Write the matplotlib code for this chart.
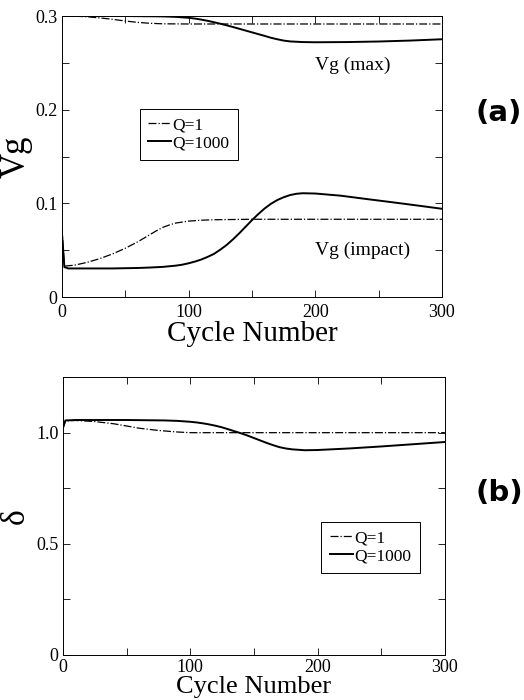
import matplotlib
matplotlib.use("Agg")
import matplotlib.pyplot as plt

plt.rcParams['font.family'] = ['Liberation Serif', 'DejaVu Serif']

# ---- panel (a): Vg vs cycle number ----
x_max_q1 = [0, 10, 20, 30, 40, 50, 60, 70, 80, 100, 300]
vg_max_q1 = [0.300, 0.2998, 0.2992, 0.298, 0.2965, 0.2947, 0.2932, 0.2922, 0.2917, 0.2915, 0.2915]

x_max_q1000 = [0, 50, 80, 90, 100, 105, 110, 115, 120, 125, 130, 135, 140, 145, 150,
               155, 160, 165, 170, 175, 180, 190, 200, 225, 250, 275, 300]
vg_max_q1000 = [0.300, 0.300, 0.2996, 0.2991, 0.2981, 0.2973, 0.2962, 0.2949, 0.2934,
                0.2918, 0.2901, 0.2883, 0.2864, 0.2845, 0.2826, 0.2807, 0.2788, 0.2768,
                0.2752, 0.2738, 0.2729, 0.2722, 0.2720, 0.2722, 0.2728, 0.2738, 0.2752]

x_imp_q1 = [0, 2, 10, 20, 30, 40, 50, 60, 65, 70, 75, 80, 85, 90, 100, 110, 120, 150, 200, 300]
vg_imp_q1 = [0.075, 0.033, 0.034, 0.037, 0.041, 0.046, 0.052, 0.059, 0.063, 0.067, 0.071,
             0.0745, 0.077, 0.079, 0.081, 0.082, 0.0825, 0.083, 0.083, 0.083]

x_imp_q1000 = [0, 2, 5, 20, 40, 60, 70, 80, 90, 95, 100, 105, 110, 115, 120, 125, 130,
               135, 140, 145, 150, 155, 160, 165, 170, 175, 180, 185, 190, 200, 220,
               240, 260, 280, 300]
vg_imp_q1000 = [0.07, 0.032, 0.0305, 0.0305, 0.0305, 0.031, 0.0315, 0.0322, 0.0335,
                0.0345, 0.036, 0.0378, 0.040, 0.0428, 0.046, 0.0505, 0.0555, 0.0615,
                0.0680, 0.0750, 0.0820, 0.0885, 0.0945, 0.0995, 0.1035, 0.1065, 0.1088,
                0.1102, 0.1108, 0.1105, 0.1082, 0.1047, 0.1013, 0.0978, 0.0942]

# ---- panel (b): delta vs cycle number ----
x_d_q1 = [0, 2, 10, 25, 40, 50, 60, 75, 90, 100, 120, 300]
delta_q1 = [1.02, 1.053, 1.055, 1.05, 1.04, 1.03, 1.02, 1.01, 1.003, 1.0, 1.0, 1.0]

x_d_q1000 = [0, 2, 10, 50, 80, 90, 100, 105, 110, 115, 120, 125, 130, 135, 140, 145,
             150, 155, 160, 165, 170, 175, 180, 190, 200, 225, 250, 275, 300]
delta_q1000 = [1.02, 1.055, 1.057, 1.057, 1.055, 1.053, 1.049, 1.046, 1.042, 1.037,
               1.031, 1.024, 1.015, 1.006, 0.997, 0.987, 0.976, 0.965, 0.954, 0.944,
               0.935, 0.929, 0.925, 0.921, 0.922, 0.929, 0.938, 0.948, 0.958]

xticks = [0, 50, 100, 150, 200, 250, 300]
xticklabels = ['0', '', '100', '', '200', '', '300']
yticks_a = [0, 0.05, 0.1, 0.15, 0.2, 0.25, 0.3]
yticklabels_a = ['0', '', '0.1', '', '0.2', '', '0.3']
yticks_b = [0, 0.25, 0.5, 0.75, 1.0, 1.25]
yticklabels_b = ['0', '', '0.5', '', '1.0', '']

fig = plt.figure(figsize=(5.24, 7.0), dpi=100)
ax1 = fig.add_axes([0.118, 0.5757, 0.7255, 0.4014])
ax2 = fig.add_axes([0.120, 0.0643, 0.729, 0.397])


def style(ax, yt, ytl, ylim, xl_size=21, xl_pad=0, xt_pad=5):
    ax.set_xlim(0, 300)
    ax.set_ylim(*ylim)
    ax.set_xticks(xticks)
    ax.set_xticklabels(xticklabels)
    ax.set_yticks(yt)
    ax.set_yticklabels(ytl)
    ax.tick_params(direction='in', top=True, right=True, length=5, width=0.6,
                   labelsize=13, pad=3)
    ax.tick_params(axis='x', pad=xt_pad)
    for s in ax.spines.values():
        s.set_linewidth(0.7)
    ax.set_xlabel('Cycle Number', fontsize=xl_size, labelpad=xl_pad)


# panel (a)
ax1.plot(x_max_q1, vg_max_q1, color='black', ls='-.', lw=0.9, label='Q=1')
ax1.plot(x_max_q1000, vg_max_q1000, color='black', ls='-', lw=1.4, label='Q=1000')
ax1.plot(x_imp_q1, vg_imp_q1, color='black', ls='-.', lw=0.9)
ax1.plot(x_imp_q1000, vg_imp_q1000, color='black', ls='-', lw=1.4)
style(ax1, yticks_a, yticklabels_a, (0, 0.3))
ax1.set_ylabel('Vg', fontsize=25, labelpad=2)
ax1.text(200, 0.2476, 'Vg (max)', fontsize=14, va='center', ha='left')
ax1.text(200, 0.050, 'Vg (impact)', fontsize=14, va='center', ha='left')
leg = ax1.legend(loc='upper left', bbox_to_anchor=(0.182, 0.701), fontsize=12.5,
                 handlelength=1.3, handletextpad=0.1, borderpad=0.5, labelspacing=0.1,
                 fancybox=False, edgecolor='black', framealpha=1)
leg.get_frame().set_linewidth(0.7)

# panel (b)
ax2.plot(x_d_q1, delta_q1, color='black', ls='-.', lw=0.9, label='Q=1')
ax2.plot(x_d_q1000, delta_q1000, color='black', ls='-', lw=1.4, label='Q=1000')
style(ax2, yticks_b, yticklabels_b, (0, 1.25), xl_size=19, xl_pad=0, xt_pad=3)
ax2.set_ylabel('δ', fontsize=24, labelpad=4)
leg = ax2.legend(loc='upper left', bbox_to_anchor=(0.654, 0.511), fontsize=12.5,
                 handlelength=1.3, handletextpad=0.1, borderpad=0.5, labelspacing=0.1,
                 fancybox=False, edgecolor='black', framealpha=1)
leg.get_frame().set_linewidth(0.7)

fig.text(0.952, 1 - 113 / 700, '(a)', fontsize=21, fontweight='bold',
         family='DejaVu Sans', ha='center', va='center')
fig.text(0.952, 1 - 493 / 700, '(b)', fontsize=21, fontweight='bold',
         family='DejaVu Sans', ha='center', va='center')

fig.savefig('out.png', dpi=100)
